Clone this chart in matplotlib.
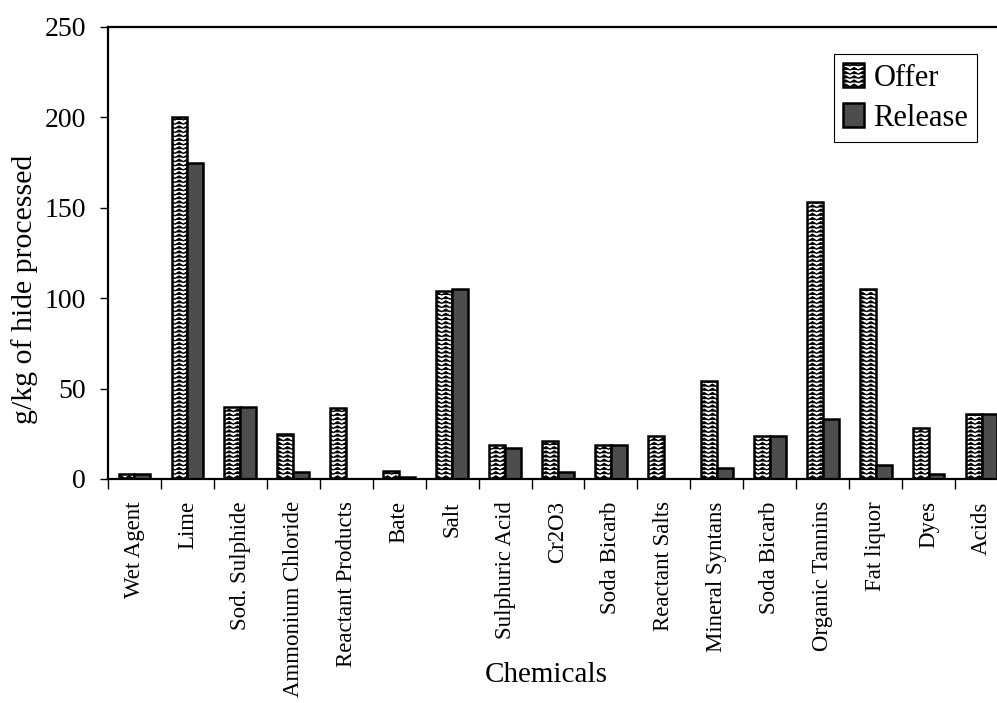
import numpy as np
import matplotlib
matplotlib.use('Agg')
import matplotlib.pyplot as plt
import matplotlib.hatch as mhatch
from matplotlib.path import Path

# data
chemicals = ['Wet Agent', 'Lime', 'Sod. Sulphide', 'Ammonium Chloride',
             'Reactant Products', 'Bate', 'Salt', 'Sulphuric Acid', 'Cr2O3',
             'Soda Bicarb', 'Reactant Salts', 'Mineral Syntans', 'Soda Bicarb',
             'Organic Tannins', 'Fat liquor', 'Dyes', 'Acids']
offer = [3, 200, 40, 25, 39, 4.5, 104, 19, 21, 19, 24, 54, 24, 153, 105, 28, 36]
release = [3, 175, 40, 4, 0, 1, 105, 17, 4, 19, 0, 6, 24, 33, 8, 3, 36]
yticks = [0, 50, 100, 150, 200, 250]


# zigzag hatch (replaces the '-' hatch) to look like the wavy fill of the scan
class ZigzagHatch(mhatch.HatchPatternBase):
    def __init__(self, hatch, density):
        self.num_lines = int(hatch.count('-') * density)
        self.n_seg = 24
        self.num_vertices = self.num_lines * (self.n_seg + 1)

    def set_vertices_and_codes(self, vertices, codes):
        if self.num_lines == 0:
            return
        step = 1.0 / self.num_lines
        xs = np.linspace(0, 1, self.n_seg + 1)
        amp = step * 0.3
        sign = np.where(np.arange(self.n_seg + 1) % 2 == 0, -1, 1)
        k = 0
        for i in range(self.num_lines):
            y0 = i * step + step / 2
            vertices[k:k + self.n_seg + 1, 0] = xs
            vertices[k:k + self.n_seg + 1, 1] = y0 + amp * sign
            codes[k] = Path.MOVETO
            codes[k + 1:k + self.n_seg + 1] = Path.LINETO
            k += self.n_seg + 1


mhatch._hatch_types[0] = ZigzagHatch

plt.rcParams['font.family'] = ['Liberation Serif', 'DejaVu Serif']
plt.rcParams['hatch.linewidth'] = 0.9

fig = plt.figure(figsize=(9.97, 7.03), dpi=100)
# axes runs off the right edge of the page, like the cropped scan
ax = fig.add_axes([108 / 997, 1 - 479 / 703, 900 / 997, 452 / 703])

x = np.arange(len(chemicals))
w = 0.3
ax.bar(x - w / 2, offer, w, color='white', edgecolor='black', linewidth=1.8,
       hatch='----', label='Offer')
ax.bar(x + w / 2, release, w, color='#4d4d4d', edgecolor='black', linewidth=1.8,
       label='Release')

ax.set_xlim(-0.5, len(chemicals) - 0.5)
ax.set_ylim(0, 250)
ax.set_yticks(yticks)
ax.tick_params(axis='y', labelsize=20, length=6, width=1, direction='out', pad=10)

ax.set_xticks(x)
ax.set_xticklabels(chemicals, rotation=90, fontsize=16.5)
ax.tick_params(axis='x', which='major', length=0, pad=16)
ax.set_xticks(np.arange(len(chemicals) + 1) - 0.5, minor=True)
ax.tick_params(axis='x', which='minor', length=7, width=1, direction='out')

for s in ['left', 'bottom', 'top']:
    ax.spines[s].set_linewidth(1.6)
ax.spines['right'].set_visible(False)

ax.set_ylabel('g/kg of hide processed', fontsize=21.5)
ax.yaxis.set_label_coords(-0.078, 0.42)
ax.set_xlabel('Chemicals', fontsize=21)
ax.xaxis.set_label_coords(0.487, -0.405)

leg = ax.legend(loc='upper right', bbox_to_anchor=(0.966, 0.94), fontsize=22,
                fancybox=False, edgecolor='black', framealpha=1,
                handlelength=0.7, handleheight=0.8, handletextpad=0.3,
                borderpad=0.3, labelspacing=0.35, borderaxespad=0)
leg.get_frame().set_linewidth(0.8)

fig.savefig('out.png', dpi=100)
